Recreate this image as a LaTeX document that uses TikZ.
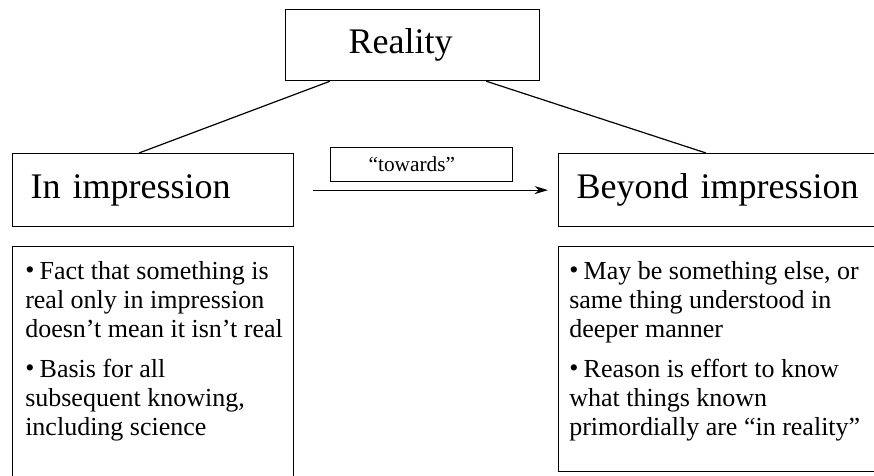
\documentclass[tikz,border=0pt]{standalone}
\usepackage{fontspec}
\setmainfont{Liberation Serif}
\usetikzlibrary{arrows.meta, positioning}

\tikzset{
	headbox/.style={draw, anchor=north west, inner ysep=0pt, align=left, font=\fontsize{27}{32}\selectfont},
	listbox/.style={draw, anchor=north west, inner sep=0pt},
	listtext/.style={anchor=north west, inner sep=0pt, align=left, font=\fontsize{19.5}{21.75}\selectfont}
}
\newcommand{\listbullet}{\raisebox{0.5pt}{•}\kern4pt}

\begin{document}
\begin{tikzpicture}[x=0.75pt, y=-0.75pt, line width=0.9pt]

\useasboundingbox (0,0) rectangle (874,475);

\node[headbox, inner xsep=47.25pt, text width=96pt, minimum height=53.25pt] (reality) at (285,9) {Reality};
\node[headbox, inner xsep=13.5pt, text width=183.75pt, minimum height=54.75pt] (inimp) at (12,153) {In impression};
\node[headbox, inner xsep=13.5pt, text width=217.5pt, minimum height=54.75pt] (beyond) at (558,153) {Beyond impression};
\node[headbox, font=\fontsize{16}{19}\selectfont, inner xsep=28.5pt, text width=79.5pt, minimum height=25.5pt] (towards) at (330,147) {“towards”};

\node[listbox, minimum width=210.75pt, minimum height=174pt] (leftlist) at (12,246) {};
\node[listbox, minimum width=244.5pt, minimum height=168.5pt] (rightlist) at (558,246) {};

\node[listtext, below right=10.9pt and 9.5pt of leftlist.north west] (lefttext) {\listbullet Fact that something is\\ real only in impression\\ doesn’t mean it isn’t real\\[8.25pt] \listbullet Basis for all\\ subsequent knowing,\\ including science};
\node[listtext, below right=10.9pt and 8pt of rightlist.north west] (righttext) {\listbullet May be something else, or\\ same thing understood in\\ deeper manner\\[8.25pt] \listbullet Reason is effort to know\\ what things known\\ primordially are “in reality”};

\draw ([xshift=33.75pt]reality.south west) -- ([xshift=95.25pt]inimp.north west);
\draw ([xshift=-40.5pt]reality.south east) -- ([xshift=111pt]beyond.north west);
\draw[-{Stealth[length=10pt, width=6pt, inset=3pt]}] ([xshift=14.25pt]inimp.east) -- ([xshift=-7.5pt]beyond.west);

\end{tikzpicture}
\end{document}
